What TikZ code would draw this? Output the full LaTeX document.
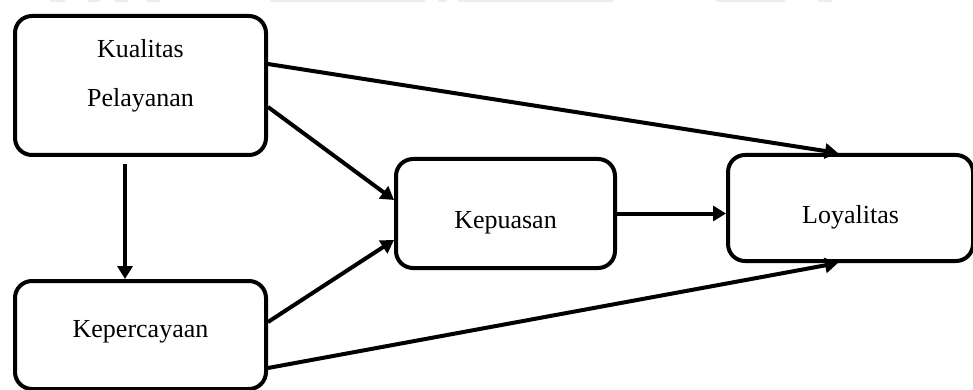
\documentclass[tikz,border=0pt]{standalone}
\usepackage{fontspec}
\setmainfont{Liberation Serif}
\usetikzlibrary{arrows.meta}

\tikzset{
  varbox/.style={draw=black, line width=4pt, rounded corners=17pt,
    rectangle, inner sep=0pt, fill=white},
  varlabel/.style={anchor=base, inner sep=0pt,
    font=\fontsize{26}{30}\selectfont},
  link/.style={line width=4pt,
    -{Triangle[length=13pt,width=15pt]}},
  faintbar/.style={fill=black!7, draw=none}
}

\begin{document}
\begin{tikzpicture}[x=1pt,y=-1pt]
  \useasboundingbox (0,0) rectangle (973,390);

  % faint remnants along the top edge
  \fill[faintbar] (50,0) rectangle (65,2);
  \fill[faintbar] (88,0) rectangle (100,2);
  \fill[faintbar] (115,0) rectangle (128,2);
  \fill[faintbar] (147,0) rectangle (160,2);
  \fill[faintbar] (270,0) rectangle (425,2);
  \fill[faintbar] (438,0) rectangle (447,2);
  \fill[faintbar] (458,0) rectangle (613,2);
  \fill[faintbar] (716,0) rectangle (785,2);
  \fill[faintbar] (818,0) rectangle (832,2);

  % variable boxes
  \node[varbox, minimum width=251pt, minimum height=139pt] (kq) at (140.5,85.5) {};
  \node[varbox, minimum width=251pt, minimum height=108pt] (kc) at (140.5,335) {};
  \node[varbox, minimum width=219pt, minimum height=109pt] (ks) at (505.5,213.5) {};
  \node[varbox, minimum width=245pt, minimum height=106pt] (ly) at (850.5,208) {};

  % box texts
  \node[varlabel] (kqA) at (kq |- 0,58) {Kualitas};
  \node[varlabel] (kqB) at (kq |- 0,107) {Pelayanan};
  \node[varlabel] (kcT) at (kc |- 0,337) {Kepercayaan};
  \node[varlabel] (ksT) at (ks |- 0,228) {Kepuasan};
  \node[varlabel] (lyT) at (ly |- 0,223) {Loyalitas};

  % connectors
  \draw[link] ([yshift=21.5pt]kq.east) -- ([xshift=-12.5pt]ly.north);
  \draw[link] ([yshift=-21.5pt]kq.east) -- ([yshift=13.5pt]ks.west);
  \draw[link] ([yshift=13pt]kc.east) -- ([yshift=-26.5pt]ks.west);
  \draw[link] ([yshift=-33pt]kc.east) -- ([xshift=-12.5pt]ly.south);
  \draw[link] (ks.east) -- (ks.east -| ly.west);
  \draw[link, shorten <=7pt] ([xshift=-15.5pt]kq.south) -- ([xshift=-15.5pt]kc.north);
\end{tikzpicture}
\end{document}
